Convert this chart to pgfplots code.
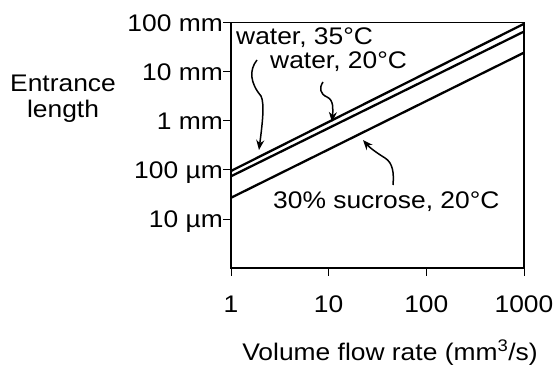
\documentclass[border=0pt]{standalone}
\usepackage{fontspec}
\setmainfont{Liberation Sans}[FakeStretch=1.1]
\usepackage{pgfplots}
\pgfplotsset{compat=1.18}
\usetikzlibrary{arrows.meta}
\begin{document}
\begin{tikzpicture}[x=1pt,y=1pt]
\path[use as bounding box] (0,0) rectangle (555,366);
\begin{axis}[
  at={(231pt,98pt)}, anchor=south west,
  scale only axis, width=293pt, height=245.3pt,
  xmode=log, ymode=log,
  xmin=1, xmax=1000, ymin=0.001, ymax=100,
  xtick={1,10,100,1000}, xticklabels={1,10,100,1000},
  ytick={0.01,0.1,1,10,100},
  yticklabels={10 µm,100 µm,1 mm,10 mm,100 mm},
  xminorticks=false, yminorticks=false,
  tick align=outside, xtick pos=left, ytick pos=left,
  major tick length=8pt,
  axis line style={line width=1.6pt},
  tick style={line width=0.8pt, black},
  tick label style={font=\fontsize{24}{28}\selectfont},
  xticklabel style={anchor=base, inner sep=0pt, yshift=-36.7pt},
  yticklabel style={anchor=base east, inner sep=0pt, yshift=-8.5pt},
  clip=false,
]
\addplot[line width=2.3pt] coordinates {(1,0.095) (1000,95)};
\addplot[line width=2.3pt] coordinates {(1,0.074) (1000,66)};
\addplot[line width=2.3pt] coordinates {(1,0.027) (1000,24.5)};
\end{axis}
\begin{scope}[font=\fontsize{24}{28}\selectfont]
\node[anchor=west, inner sep=0pt] at (236,328) {water, 35°C};
\node[anchor=west, inner sep=0pt] at (270,304) {water, 20°C};
\node[anchor=west, inner sep=0pt] at (273,164) {30\% sucrose, 20°C};
\node[anchor=base, inner sep=0pt] at (63,274) {Entrance};
\node[anchor=base, inner sep=0pt] at (63,248) {length};
\node[anchor=base, inner sep=0pt] at (390,5.3) {Volume flow rate (mm\textsuperscript{3}/s)};
\end{scope}
\draw[line width=1.5pt, -{Stealth[length=10pt,width=8pt]}]
  (257,306) .. controls (249,296) and (250,283) .. (261,270)
  .. controls (265,262) and (262,240) .. (259,216);
\draw[line width=1.5pt, -{Stealth[length=10pt,width=8pt]}]
  (323,284) .. controls (319,278) and (320,272) .. (327,269)
  .. controls (334,266) and (333,256) .. (332,244);
\draw[line width=1.5pt, -{Stealth[length=10pt,width=8pt]}]
  (393,181) .. controls (394,193) and (393,203) .. (385,208)
  .. controls (377,213) and (370,218) .. (363,226);
\end{tikzpicture}
\end{document}
